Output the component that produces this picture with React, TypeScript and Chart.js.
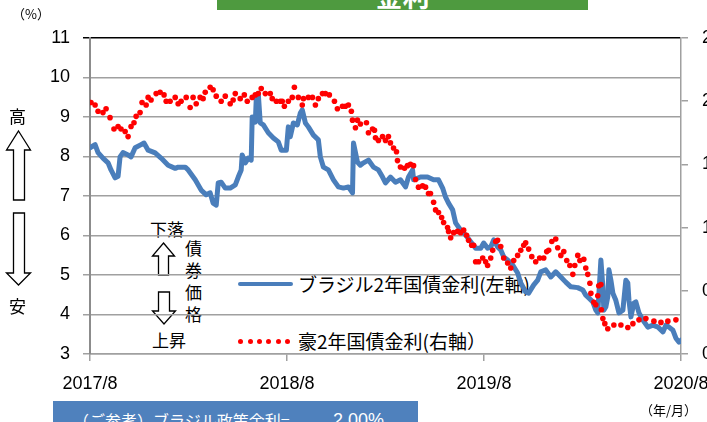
import React, { useEffect, useRef } from "react";
import { Chart, registerables } from "chart.js";

Chart.register(...registerables);

// x values are months elapsed since 2017/8
const brazilMonths = [
  0, 0.31, 0.49, 0.79, 1.1, 1.28, 1.53, 1.71, 1.83, 2.01, 2.32, 2.5, 2.75, 3.11, 3.29, 3.54, 3.97, 4.33, 4.76, 5.19,
  5.37, 5.8, 5.98, 6.41, 6.77, 7.08, 7.32, 7.5, 7.69, 7.81, 7.99, 8.24, 8.54, 8.85, 9.03, 9.21, 9.27, 9.46, 9.64, 9.82,
  9.88, 10.07, 10.13, 10.25, 10.37, 10.56, 10.86, 11.17, 11.47, 11.65, 11.96, 12.08, 12.2, 12.39, 12.63, 12.81, 12.93,
  13.12, 13.3, 13.61, 13.91, 14.03, 14.22, 14.52, 14.83, 15.13, 15.44, 15.74, 15.99, 16.05, 16.29, 16.47, 16.66, 16.96,
  17.27, 17.57, 17.82, 18.0, 18.3, 18.61, 18.91, 19.22, 19.4, 19.65, 19.71, 20.13, 20.56, 20.93, 21.23, 21.48, 21.66,
  21.84, 22.09, 22.27, 22.57, 22.88, 23.19, 23.49, 23.8, 23.98, 24.22, 24.41, 24.59, 24.83, 25.02, 25.2, 25.44, 25.75,
  26.05, 26.24, 26.54, 26.72, 27.03, 27.27, 27.46, 27.76, 28.07, 28.37, 28.68, 28.98, 29.29, 29.71, 30.02, 30.2, 30.38,
  30.63, 30.81, 30.93, 30.99, 31.12, 31.24, 31.3, 31.42, 31.54, 31.61, 31.73, 31.85, 32.03, 32.22, 32.46, 32.64, 32.76,
  32.83, 32.95, 33.13, 33.25, 33.44, 33.68, 33.98, 34.29, 34.6, 34.9, 35.08, 35.27, 35.51, 35.69, 35.88, 36.0,
];
const brazilYields = [
  8.22, 8.3, 8.1, 7.96, 7.84, 7.66, 7.46, 7.5, 7.99, 8.1, 8.04, 7.99, 8.22, 8.3, 8.34, 8.16, 8.09, 7.96, 7.78, 7.7,
  7.73, 7.73, 7.66, 7.41, 7.15, 7.03, 7.08, 6.82, 6.77, 7.33, 7.35, 7.2, 7.2, 7.28, 7.48, 7.66, 8.04, 7.84, 7.96, 7.91,
  9.0, 8.87, 9.48, 9.6, 8.85, 8.8, 8.6, 8.47, 8.37, 8.16, 8.16, 8.75, 8.5, 8.85, 8.8, 9.1, 9.18,
  8.85, 8.75, 8.54, 8.42, 7.99, 7.73, 7.66, 7.41, 7.23, 7.2, 7.23, 7.08, 8.34, 7.86, 7.78, 7.84, 7.91,
  7.73, 7.66, 7.48, 7.33, 7.48, 7.35, 7.41, 7.23, 7.48, 7.66, 7.41, 7.48, 7.48, 7.41, 7.41, 7.2, 6.97,
  6.82, 6.65, 6.32, 6.14, 6.01, 5.84, 5.68, 5.68, 5.81, 5.68, 5.71, 5.89, 5.71, 5.63, 5.46, 5.38, 5.25,
  5.05, 4.8, 4.57, 4.54, 4.75, 4.87, 5.08, 5.13, 4.95, 5.08, 4.95, 4.82, 4.7, 4.68, 4.62, 4.49, 4.42,
  4.32, 4.11, 4.04, 4.45, 5.38, 4.7, 4.11, 4.19, 4.45, 5.13, 4.87, 4.54, 4.36, 4.04, 4.11, 4.87, 4.8,
  4.36, 3.94, 4.29, 4.32, 4.04, 3.86, 3.68, 3.73, 3.68, 3.56, 3.73, 3.68, 3.6, 3.4, 3.3, 3.35,
];

const ausMonths = [
  0.06, 0.31, 0.49, 0.79, 0.98, 1.22, 1.46, 1.71, 1.89, 2.14, 2.32, 2.5, 2.68, 2.81, 3.05, 3.17, 3.42, 3.54, 3.72, 4.03,
  4.27, 4.51, 4.64, 4.88, 5.19, 5.37, 5.55, 5.86, 6.1, 6.28, 6.47, 6.71, 6.89, 7.02, 7.32, 7.5, 7.69, 7.99, 8.24, 8.54,
  8.72, 8.85, 9.15, 9.4, 9.58, 9.88, 10.07, 10.25, 10.43, 10.68, 10.98, 11.1, 11.35, 11.59, 11.71, 11.84, 12.08, 12.32,
  12.45, 12.69, 12.93, 13.0, 13.3, 13.55, 13.73, 13.91, 14.16, 14.34, 14.58, 14.89, 15.07, 15.38, 15.56, 15.74, 15.92,
  15.99, 16.17, 16.29, 16.47, 16.84, 16.96, 17.21, 17.33, 17.39, 17.57, 17.82, 18.0, 18.18, 18.3, 18.49, 18.67, 18.73,
  18.91, 19.16, 19.34, 19.52, 19.71, 19.83, 20.01, 20.26, 20.44, 20.62, 20.74, 20.93, 21.05, 21.23, 21.42, 21.54, 21.78,
  21.84, 21.97, 22.15, 22.39, 22.57, 22.76, 22.94, 23.06, 23.25, 23.37, 23.49, 23.67, 23.92, 24.1, 24.22, 24.41, 24.53,
  24.71, 24.83, 25.02, 25.2, 25.44, 25.63, 25.81, 26.05, 26.24, 26.42, 26.54, 26.72, 26.91, 27.15, 27.39, 27.64, 27.82,
  27.94, 28.13, 28.37, 28.49, 28.68, 28.86, 29.04, 29.23, 29.41, 29.53, 29.71, 29.84, 30.08, 30.2, 30.32, 30.45, 30.51,
  30.69, 30.81, 30.93, 30.99, 31.12, 31.15, 31.24, 31.36, 31.54, 31.91, 32.34, 32.76, 33.07, 33.44, 33.86, 34.35, 34.78,
  35.2, 35.69,
];
const ausYields = [
  1.99, 1.97, 1.92, 1.91, 1.94, 1.87, 1.78, 1.8, 1.78, 1.76, 1.72, 1.8, 1.83, 1.88, 1.91, 1.99, 1.97, 2.03, 2.01, 2.06,
  2.07, 2.05, 2.0, 2.0, 2.03, 1.98, 2.0, 2.03, 1.95, 2.03, 1.98, 2.03, 2.02, 2.07, 2.11, 2.09, 2.04, 2.0, 2.04, 1.98,
  2.01, 2.06, 2.02, 2.05, 2.0, 2.03, 2.05, 2.06, 2.1, 2.06, 2.06, 2.02, 2.0, 2.0, 2.0, 1.96, 2.0, 2.03,
  2.11, 2.03, 1.97, 2.02, 2.03, 2.03, 1.97, 2.02, 2.06, 2.06, 2.05, 2.0, 1.94, 1.96, 1.96, 1.97, 1.92,
  1.85, 1.79, 1.85, 1.82, 1.83, 1.75, 1.78, 1.77, 1.71, 1.69, 1.72, 1.69, 1.72, 1.67, 1.63, 1.6, 1.53,
  1.48, 1.47, 1.49, 1.5, 1.49, 1.38, 1.32, 1.33, 1.32, 1.27, 1.27, 1.2, 1.14, 1.12, 1.08, 1.04, 1.0,
  0.97, 0.92, 0.96, 0.97, 0.96, 0.98, 0.94, 0.9, 0.86, 0.86, 0.73, 0.73, 0.76, 0.73, 0.7, 0.76, 0.82,
  0.89, 0.9, 0.85, 0.76, 0.72, 0.68, 0.74, 0.78, 0.82, 0.86, 0.88, 0.83, 0.77, 0.73, 0.76, 0.76, 0.81,
  0.82, 0.89, 0.91, 0.84, 0.78, 0.81, 0.74, 0.7, 0.63, 0.7, 0.78, 0.74, 0.75, 0.68, 0.63, 0.56, 0.48,
  0.41, 0.39, 0.46, 0.54, 0.55, 0.35, 0.28, 0.24, 0.2, 0.23, 0.23, 0.21, 0.24, 0.27, 0.28, 0.26, 0.25,
  0.26, 0.27,
];

const xTickYears = [2017, 2018, 2019, 2020];
const brazilLabel = "ブラジル2年国債金利(左軸)";
const ausLabel = "豪2年国債金利(右軸）";
const policyNote = "（ご参考）ブラジル政策金利=";
const policyRate = "2.00%";

const BLUE = "#4a7ebb";
const RED = "#ff0000";
const GRID = "#a0a0a0";
const JP = "'Noto Sans CJK JP', 'Noto Sans', sans-serif";
const NUM = "'Liberation Sans', Arial, sans-serif";

export default function App() {
  const ref = useRef<HTMLCanvasElement | null>(null);

  useEffect(() => {
    if (!ref.current) return;
    const chart = new Chart(ref.current, {
      type: "line",
      data: {
        datasets: [
          {
            label: ausLabel,
            data: ausMonths.map((m, i) => ({ x: m, y: ausYields[i] })),
            yAxisID: "y1",
            showLine: false,
            pointRadius: 2.8,
            pointBackgroundColor: RED,
            pointBorderWidth: 0,
            order: 0,
          },
          {
            label: brazilLabel,
            data: brazilMonths.map((m, i) => ({ x: m, y: brazilYields[i] })),
            yAxisID: "y",
            borderColor: BLUE,
            borderWidth: 5,
            pointRadius: 0,
            tension: 0,
            borderJoinStyle: "round",
            borderCapStyle: "round",
            order: 1,
          },
        ],
      },
      options: {
        responsive: false,
        animation: false,
        devicePixelRatio: 1,
        layout: { padding: { top: 38, left: 0, right: 0, bottom: 0 } },
        plugins: { legend: { display: false }, tooltip: { enabled: false } },
        scales: {
          x: {
            type: "linear",
            min: 0,
            max: 36,
            position: "bottom",
            afterFit: (s: any) => {
              s.height = 68;
              s.paddingLeft = 0;
              s.paddingRight = 0;
            },
            ticks: {
              stepSize: 12,
              autoSkip: false,
              maxRotation: 0,
              padding: 12,
              color: "#000",
              font: { family: NUM, size: 18 },
              callback: (v: any) => {
                const i = Math.round(Number(v) / 12);
                return xTickYears[i] !== undefined ? `${xTickYears[i]}/8` : "";
              },
            },
            grid: { drawOnChartArea: false, drawTicks: true, tickLength: 7, color: GRID, lineWidth: 1.5 },
            border: { color: GRID, width: 1.5 },
          },
          y: {
            position: "left",
            min: 3,
            max: 11,
            afterFit: (s: any) => {
              s.width = 90;
            },
            ticks: { stepSize: 1, padding: 13, color: "#000", font: { family: NUM, size: 18 } },
            grid: {
              color: (c: any) => (c.tick && c.tick.value === 11 ? "#000" : GRID),
              lineWidth: 1.5,
              tickLength: 7,
            },
            border: { color: "#8c8c8c", width: 2 },
          },
          y1: {
            position: "right",
            min: 0,
            max: 2.5,
            afterFit: (s: any) => {
              s.width = 26;
            },
            ticks: {
              stepSize: 0.5,
              padding: 14,
              color: "#000",
              font: { family: NUM, size: 18 },
              callback: (v: any) => Number(v).toFixed(1),
            },
            grid: { drawOnChartArea: false, tickLength: 7, color: GRID, lineWidth: 1.5 },
            border: { color: GRID, width: 1.5 },
          },
        },
      },
    });
    return () => chart.destroy();
  }, []);

  const abs = (s: React.CSSProperties): React.CSSProperties => ({ position: "absolute", ...s });
  const dots = [240, 250, 259, 268, 278, 287];

  return (
    <div style={abs({ left: 0, top: 0, width: 707, height: 422, overflow: "hidden", background: "#fff" })}>
      {/* layer behind the canvas: legend + bond price annotation */}
      <div style={abs({ left: 0, top: 0, width: 707, height: 422, zIndex: 0 })}>
        <div style={abs({ left: 238, top: 282, width: 55, height: 4, background: BLUE, borderRadius: 2 })} />
        <div
          style={abs({
            left: 298, top: 272, fontFamily: JP, fontSize: 19, lineHeight: "24px", whiteSpace: "nowrap", color: "#000",
          })}
        >
          {brazilLabel}
        </div>
        {dots.map((x) => (
          <div key={x} style={abs({ left: x - 2.5, top: 338.5, width: 5, height: 5, borderRadius: 3, background: RED })} />
        ))}
        <div
          style={abs({
            left: 298, top: 329, fontFamily: JP, fontSize: 19, lineHeight: "24px", whiteSpace: "nowrap", color: "#000",
          })}
        >
          {ausLabel}
        </div>

        <div style={abs({ left: 150, top: 219, fontFamily: JP, fontSize: 17, lineHeight: "20px", whiteSpace: "nowrap" })}>
          下落
        </div>
        <div style={abs({ left: 152, top: 330, fontFamily: JP, fontSize: 17, lineHeight: "20px", whiteSpace: "nowrap" })}>
          上昇
        </div>
        {["債", "券", "価", "格"].map((c, i) => (
          <div key={c} style={abs({ left: 185, top: 238 + i * 22, fontFamily: JP, fontSize: 17, lineHeight: "20px" })}>
            {c}
          </div>
        ))}
        <svg width={707} height={422} style={abs({ left: 0, top: 0 })}>
          <polygon
            points="163.5,243 174.5,256 168.5,256 168.5,275 158.5,275 158.5,256 152.5,256"
            fill="#fff"
            stroke="#000"
            strokeWidth={1.3}
          />
          <polygon
            points="158.5,292 169.5,292 169.5,311 175.5,311 164,324 152.5,311 158.5,311"
            fill="#fff"
            stroke="#000"
            strokeWidth={1.3}
          />
        </svg>
      </div>

      <canvas ref={ref} width={707} height={422} style={abs({ left: 0, top: 0, width: 707, height: 422, zIndex: 1 })} />

      {/* layer above the canvas: items outside the plot */}
      <div style={abs({ left: 0, top: 0, width: 707, height: 422, zIndex: 2, pointerEvents: "none" })}>
        <div style={abs({ left: 217, top: 0, width: 371, height: 10, background: "#4e9a3f", overflow: "hidden" })}>
          <div
            style={abs({
              left: 0, top: -19, width: 371, textAlign: "center", color: "#fff", fontFamily: JP, fontWeight: 700,
              fontSize: 27, lineHeight: "30px",
            })}
          >
            金利
          </div>
        </div>
        <div style={abs({ left: 12, top: 5, fontFamily: JP, fontSize: 13, lineHeight: "18px", whiteSpace: "nowrap" })}>
          （%）
        </div>
        <div style={abs({ left: 9, top: 105, fontFamily: JP, fontSize: 17, lineHeight: "22px" })}>高</div>
        <div style={abs({ left: 9, top: 295, fontFamily: JP, fontSize: 17, lineHeight: "22px" })}>安</div>
        <svg width={60} height={300} style={abs({ left: 0, top: 0 })}>
          <polygon
            points="18.5,131 30.5,150 24.5,150 24.5,200 13.5,200 13.5,150 6.5,150"
            fill="#fff"
            stroke="#000"
            strokeWidth={1.3}
          />
          <polygon
            points="13.5,213 24.5,213 24.5,273 30.5,273 18.5,285 6.5,273 13.5,273"
            fill="#fff"
            stroke="#000"
            strokeWidth={1.3}
          />
        </svg>
        <div style={abs({ left: 53, top: 401, width: 365, height: 30, background: "#4f81bd", overflow: "hidden" })}>
          <div
            style={abs({ left: 20, top: 7, color: "#fff", fontFamily: JP, fontSize: 16, lineHeight: "24px", whiteSpace: "nowrap" })}
          >
            {policyNote}
          </div>
          <div
            style={abs({ left: 280, top: 7, color: "#fff", fontFamily: NUM, fontSize: 18, lineHeight: "24px", whiteSpace: "nowrap" })}
          >
            {policyRate}
          </div>
        </div>
        <div style={abs({ left: 640, top: 401, fontFamily: JP, fontSize: 13, lineHeight: "18px", whiteSpace: "nowrap" })}>
          （年/月）
        </div>
      </div>
    </div>
  );
}
